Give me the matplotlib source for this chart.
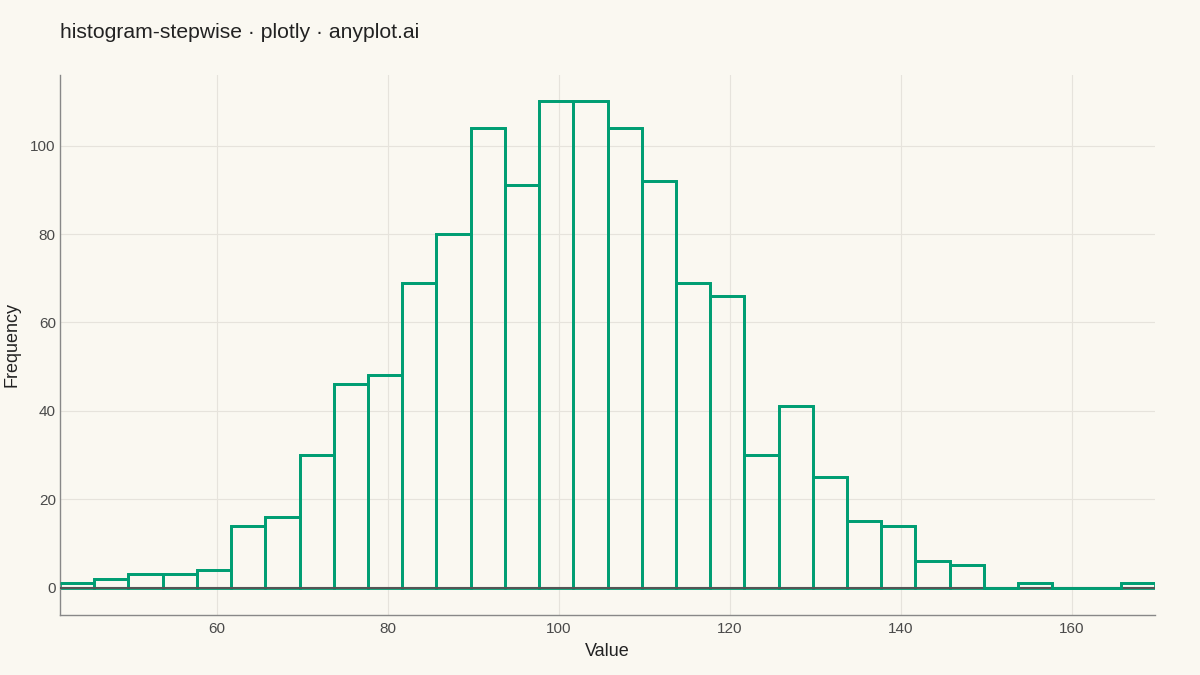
import numpy as np
import matplotlib.pyplot as plt

# histogram counts, bins of width 4 starting near 41.7
bin_start = 41.7
bin_width = 4.0
counts = [1, 2, 3, 3, 4, 14, 16, 30, 46, 48, 69, 80, 104, 91, 110, 110,
          104, 92, 69, 66, 30, 41, 25, 15, 14, 6, 5, 0, 1, 0, 0, 1]
x_ticks = [60, 80, 100, 120, 140, 160]
y_ticks = [0, 20, 40, 60, 80, 100]

bg = "#FAF8F1"
green = "#009E73"

plt.rcParams['font.family'] = ['Liberation Sans', 'DejaVu Sans']

edges = bin_start + bin_width * np.arange(len(counts) + 1)
lefts = edges[:-1]

fig = plt.figure(figsize=(12, 6.75), dpi=100, facecolor=bg)
ax = fig.add_axes([0.05, 0.089, 0.9125, 0.8])
ax.set_facecolor(bg)

ax.bar(lefts, counts, width=bin_width, align="edge", fill=False,
       edgecolor=green, linewidth=2.0, zorder=2)
ax.axhline(0, color="#555555", linewidth=1.5, zorder=3)
ax.stairs(counts, edges, baseline=None, color=green, linewidth=2.0, zorder=4)

ax.set_xlim(edges[0], edges[-1])
ax.set_ylim(-6.2, 116)
ax.set_xticks(x_ticks)
ax.set_yticks(y_ticks)
ax.grid(True, color="#E6E3DC", linewidth=0.8, zorder=0)
ax.set_axisbelow(True)

for s in ["top", "right"]:
    ax.spines[s].set_visible(False)
for s in ["left", "bottom"]:
    ax.spines[s].set_color("#888888")
    ax.spines[s].set_linewidth(1.0)

ax.tick_params(length=0, labelsize=11, labelcolor="#4a4a4a")
ax.tick_params(axis="y", pad=3)
ax.tick_params(axis="x", pad=5)
ax.set_xlabel("Value", fontsize=13, color="#222222")
ax.set_ylabel("Frequency", fontsize=13, color="#222222")
ax.xaxis.set_label_coords(0.5, -0.052)
ax.yaxis.set_label_coords(-0.0365, 0.5)

fig.text(0.05, 0.952, "histogram-stepwise · plotly · anyplot.ai",
         fontsize=15.2, color="#222222", va="center", ha="left")

fig.savefig("out.png", dpi=100, facecolor=bg)
